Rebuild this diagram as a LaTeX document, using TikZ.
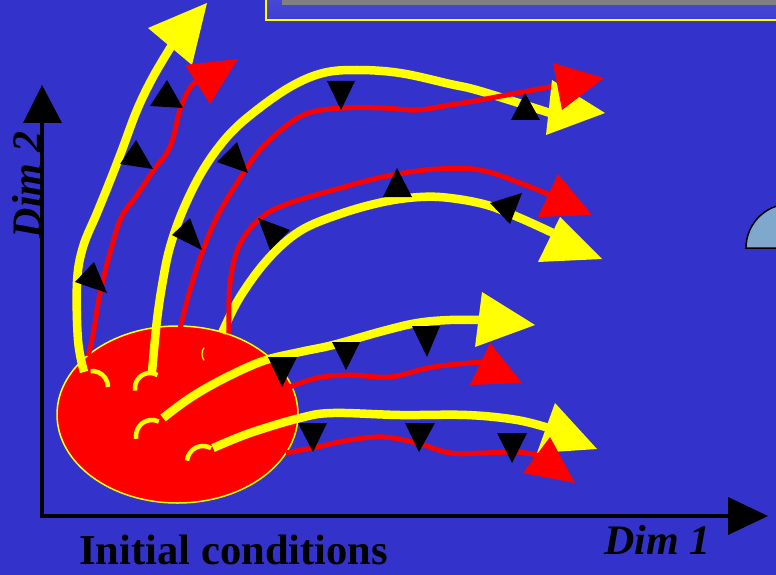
\documentclass[tikz,border=0pt]{standalone}
\usepackage{fontspec}
\setmainfont{Liberation Serif}
\definecolor{bg}{RGB}{51,51,204}
\definecolor{yel}{RGB}{255,255,0}
\definecolor{rd}{RGB}{255,0,0}
\definecolor{qdisk}{RGB}{128,168,204}
\definecolor{boxtop}{RGB}{74,74,216}
\definecolor{boxbot}{RGB}{62,62,208}
\definecolor{barg}{RGB}{128,128,128}
\begin{document}
\begin{tikzpicture}[x=1pt,y=-1pt,
  yline/.style={draw=yel,line width=8.5pt},
  rline/.style={draw=rd,line width=5pt},
  ycap/.style={draw=yel,line width=4.5pt},
  yhead/.style={fill=yel},
  rhead/.style={fill=rd},
  marker/.style={fill=black},
  lbl/.style={font=\fontsize{42.6}{50}\selectfont\bfseries,text=black,inner sep=0pt},
  lbli/.style={font=\fontsize{42}{50}\selectfont\bfseries\itshape,text=black,inner sep=0pt},
  crv/.style={smooth,tension=0.6}]
\useasboundingbox (0,0) rectangle (776,575);
\fill[bg] (0,0) rectangle (776,575);
% top box
\shade[top color=boxtop,bottom color=boxbot] (266,-5) rectangle (790,20);
\draw[yel,line width=2.5pt] (266,-5) -- (266,20) -- (790,20);
\fill[barg] (282,-2) rectangle (790,5);
% quarter disk
\filldraw[fill=qdisk,draw=black,line width=1.5pt] (746,248) arc[start angle=180,end angle=270,radius=44] -- (800,204) -- (800,248) -- cycle;
% axes
\coordinate (o) at (42,516);
\coordinate (ytip) at (42,85);
\coordinate (xtip) at (768,516);
\draw[black,line width=4pt] (42,518) -- (42,120);
\draw[black,line width=4pt] (40,516) -- (732,516);
\fill[black] (ytip) -- (23,123) -- (62,123) -- cycle;
\fill[black] (xtip) -- (728,497) -- (728,535) -- cycle;
% ellipse of initial conditions
\filldraw[fill=rd,draw=yel,line width=1.5pt] (177.5,414.5) ellipse[x radius=120.5,y radius=88.5];
% yellow trajectories
\draw[yline] plot[crv] coordinates {(84,372) (78,340) (77,282) (83,247) (97,213) (110,181) (122,150) (137,110) (153,77) (172,45)};
\draw[yline] plot[crv] coordinates {(152,372) (157,320) (163,280) (170,247) (183,210) (203,170) (227,137) (253,113) (290,87) (323,73) (357,70) (400,73) (450,84) (480,91) (550,113)};
\draw[yline] plot[crv] coordinates {(222,333) (240,297) (268,259) (300,231) (340,214) (383,202) (420,197) (450,198) (487,205) (520,218) (553,233)};
\draw[yline] plot[crv] coordinates {(163,418) (190,398) (223,379) (263,361) (300,352) (333,345) (383,331) (417,323) (450,320) (487,320)};
\draw[yline] plot[crv] coordinates {(213,448) (250,433) (300,418) (333,413) (400,415) (467,415) (517,420) (552,429)};
% start caps
\draw[ycap] (92,387) ++(-95:16) arc[start angle=-95,end angle=0,radius=16];
\draw[ycap] (150,388) ++(170:15) arc[start angle=170,end angle=300,radius=15];
\draw[ycap] (152,436) ++(170:16) arc[start angle=170,end angle=295,radius=16];
\draw[ycap] (203,462) ++(185:16) arc[start angle=185,end angle=300,radius=16];
\draw[yel,line width=1.2pt] (213,354) ++(145:11) arc[start angle=145,end angle=215,radius=11];
% red trajectories
\draw[rline] plot[crv] coordinates {(88,356) (93,335) (100,293) (110,253) (121,218) (137,195) (153,171) (170,147) (180,110) (190,88) (202,77)};
\draw[rline] plot[crv] coordinates {(180,329) (190,290) (203,250) (217,217) (237,183) (260,150) (290,123) (312,112) (343,108) (383,108) (417,110) (450,105) (480,100) (560,85)};
\draw[rline] plot[crv] coordinates {(229,333) (230,283) (240,244) (262,217) (290,203) (337,189) (387,176) (437,169) (480,170) (520,183) (557,198)};
\draw[rline] plot[crv] coordinates {(290,387) (317,378) (350,375) (390,377) (433,367) (482,362)};
\draw[rline] plot[crv] coordinates {(286,453) (317,447) (350,440) (383,437) (417,443) (450,453) (483,453) (517,452) (542,456)};
% arrow heads
\fill[yhead] (148,28) -- (207,3) -- (192,65) -- cycle;
\fill[rhead] (185,65) -- (238,59) -- (210,104) -- cycle;
\fill[yhead] (552,80) -- (605,113) -- (546,135) -- cycle;
\fill[rhead] (553,63) -- (604,78) -- (562,110) -- cycle;
\fill[yhead] (560,217) -- (538,262) -- (602,259) -- cycle;
\fill[rhead] (558,174) -- (538,217) -- (592,215) -- cycle;
\fill[yhead] (482,292) -- (535,325) -- (475,347) -- cycle;
\fill[rhead] (490,343) -- (470,385) -- (522,383) -- cycle;
\fill[yhead] (555,403) -- (597,449) -- (537,453) -- cycle;
\fill[rhead] (550,437) -- (523,473) -- (575,483) -- cycle;
% direction markers
\fill[marker] (75,282) -- (94,262) -- (107,293) -- cycle;
\fill[marker] (120,164) -- (136,140) -- (153,169) -- cycle;
\fill[marker] (150,106) -- (167,80) -- (183,108) -- cycle;
\fill[marker] (172,235) -- (190,218) -- (202,250) -- cycle;
\fill[marker] (217,162) -- (237,142) -- (248,173) -- cycle;
\fill[marker] (327,81) -- (355,81) -- (341,110) -- cycle;
\fill[marker] (511,120) -- (525,93) -- (540,120) -- cycle;
\fill[marker] (383,197) -- (397,168) -- (412,197) -- cycle;
\fill[marker] (490,203) -- (522,193) -- (510,224) -- cycle;
\fill[marker] (258,218) -- (290,230) -- (270,250) -- cycle;
\fill[marker] (268,357) -- (297,357) -- (282,387) -- cycle;
\fill[marker] (332,342) -- (360,342) -- (346,370) -- cycle;
\fill[marker] (412,326) -- (440,326) -- (427,357) -- cycle;
\fill[marker] (298,423) -- (327,423) -- (313,452) -- cycle;
\fill[marker] (405,423) -- (435,423) -- (419,452) -- cycle;
\fill[marker] (497,433) -- (527,433) -- (512,463) -- cycle;
% labels
\node[lbl,anchor=base west] (ic) at (79,564) {Initial conditions};
\node[lbli,anchor=base west] (d1) at (604,554) {Dim 1};
\node[lbli,rotate=90,anchor=base] (d2) at (41,185) {Dim 2};
\end{tikzpicture}
\end{document}
